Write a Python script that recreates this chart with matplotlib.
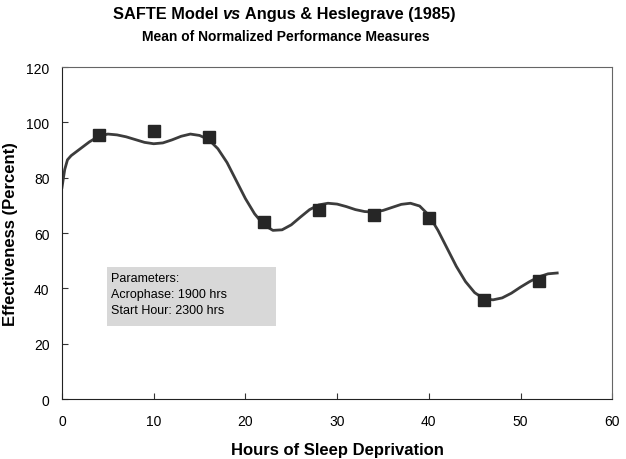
import matplotlib
matplotlib.use("Agg")
import matplotlib.pyplot as plt
from matplotlib.patches import Rectangle

# Observed data (Angus & Heslegrave 1985)
obs_hours = [4, 10, 16, 22, 28, 34, 40, 46, 52]
obs_eff = [95.4, 96.9, 94.7, 64.0, 68.3, 66.5, 65.4, 35.8, 42.6]

# SAFTE model curve
model_hours = [0, 0.3, 0.6, 1, 2, 3, 4, 5, 6, 7, 8, 9, 10, 11, 12, 13, 14, 15, 16, 17,
               18, 19, 20, 21, 22, 23, 24, 25, 26, 27, 28, 29, 30, 31, 32, 33, 34, 35,
               36, 37, 38, 39, 40, 41, 42, 43, 44, 45, 46, 47, 48, 49, 50, 51, 52, 53, 54]
model_eff = [76.5, 83.0, 86.5, 88.0, 90.5, 93.0, 95.0, 95.8, 95.5, 94.8, 93.8, 92.8, 92.3,
             92.6, 93.7, 95.0, 95.8, 95.3, 93.8, 90.5, 85.5, 79.0, 72.5, 67.0, 63.0, 61.0,
             61.2, 63.0, 65.8, 68.5, 70.2, 70.8, 70.5, 69.6, 68.5, 67.8, 67.6, 68.2, 69.3,
             70.4, 70.8, 69.8, 66.5, 61.0, 54.5, 48.0, 42.5, 38.5, 36.3, 35.9, 36.6, 38.3,
             40.5, 42.5, 44.2, 45.3, 45.6]

x_ticks = [0, 10, 20, 30, 40, 50, 60]
y_ticks = [0, 20, 40, 60, 80, 100, 120]

plt.rcParams['font.family'] = ['Liberation Sans', 'DejaVu Sans']

fig = plt.figure(figsize=(6.26, 4.6), dpi=100)
ax = fig.add_axes([0.099, 0.130, 0.879, 0.722])

ax.plot(model_hours, model_eff, color='#3c3c3c', lw=2.0, zorder=2)
ax.plot(obs_hours, obs_eff, linestyle='none', marker='s', markersize=8,
        color='#262626', zorder=3)

ax.set_xlim(0, 60)
ax.set_ylim(0, 120)
ax.set_xticks(x_ticks)
ax.set_yticks(y_ticks)
ax.tick_params(labelsize=10, length=4, width=0.8, color='#333333', direction='in')
ax.tick_params(axis='x', pad=11)
ax.tick_params(axis='y', pad=9)
for s in ax.spines.values():
    s.set_color('#666666')
    s.set_linewidth(0.8)
ax.spines['left'].set_color('#222222')
ax.spines['bottom'].set_color('#222222')

ax.set_xlabel('Hours of Sleep Deprivation', fontsize=12, fontweight='bold', labelpad=10)
ax.set_ylabel('Effectiveness (Percent)', fontsize=12, fontweight='bold', labelpad=6)

ax.add_patch(Rectangle((4.9, 26.4), 18.4, 21.3, facecolor='#d8d8d8', edgecolor='none', zorder=1))
ax.text(5.35, 38.0, 'Parameters:\nAcrophase: 1900 hrs\nStart Hour: 2300 hrs',
        fontsize=9, va='center', ha='left', linespacing=1.4, zorder=2)

# Title with italic "vs", centred as a whole
parts = [('SAFTE Model ', 'normal'), ('vs', 'italic'), (' Angus & Heslegrave (1985)', 'normal')]
fig.canvas.draw()
r = fig.canvas.get_renderer()
texts = []
for s, st in parts:
    t = fig.text(0, 0.959, s, fontsize=11.8, fontweight='bold', style=st, ha='left', va='baseline')
    texts.append(t)
widths = [t.get_window_extent(r).width for t in texts]
total = sum(widths)
x0 = 284 - total / 2
for t, w in zip(texts, widths):
    t.set_x(x0 / 626)
    x0 += w

fig.text(286 / 626, 0.911, 'Mean of Normalized Performance Measures', fontsize=10,
         fontweight='bold', ha='center', va='baseline')

fig.savefig('out.png', dpi=100)
